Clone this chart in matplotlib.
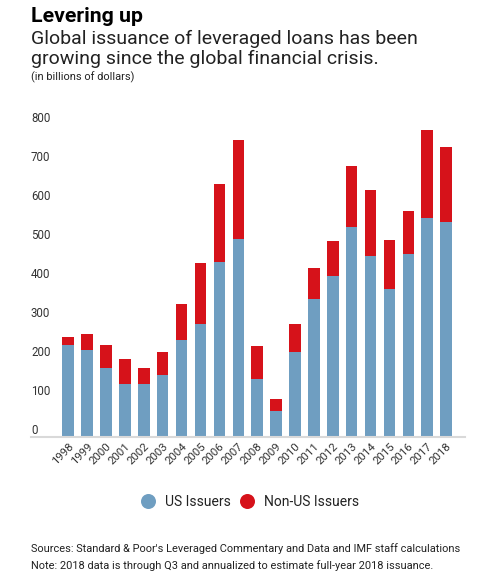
import matplotlib.pyplot as plt
from matplotlib.lines import Line2D
import numpy as np

plt.rcParams['font.family'] = ['Roboto', 'DejaVu Sans']

years = ['1998', '1999', '2000', '2001', '2002', '2003', '2004', '2005', '2006', '2007',
         '2008', '2009', '2010', '2011', '2012', '2013', '2014', '2015', '2016', '2017', '2018']
# US issuers and non-US issuers (billions of dollars)
us_issuers = [236, 223, 177, 136, 136, 158, 248, 290, 448, 508,
              148, 67, 217, 354, 412, 539, 464, 379, 468, 562, 550]
totals = [255, 265, 236, 200, 177, 218, 340, 446, 648, 761,
          232, 97, 290, 432, 501, 695, 633, 505, 580, 787, 743]
non_us_issuers = [t - u for t, u in zip(totals, us_issuers)]

BLUE = '#6f9ec1'
RED = '#d6121a'
TEXT = '#222222'

fig = plt.figure(figsize=(4.85, 5.82), dpi=100)
ax = fig.add_axes([31 / 485, 1 - 437 / 582, 434 / 485, 312.4 / 582])

x = np.arange(len(years))
ax.bar(x, us_issuers, width=0.61, color=BLUE, edgecolor='none')
ax.bar(x, non_us_issuers, bottom=us_issuers, width=0.61, color=RED, edgecolor='none')

ax.set_xlim(-1.97, 21.0)
ax.set_ylim(0, 800)

for s in ['top', 'right', 'left']:
    ax.spines[s].set_visible(False)
ax.spines['bottom'].set_color('#d9d9d9')
ax.spines['bottom'].set_linewidth(1.5)

ax.set_yticks(range(0, 801, 100))
ax.tick_params(axis='y', length=0, pad=0, labelsize=8.3, labelcolor='#333333')
for lab in ax.get_yticklabels():
    lab.set_horizontalalignment('left')
    lab.set_verticalalignment('bottom')

ax.set_xticks(x)
ax.set_xticklabels(years, rotation=45, ha='right', va='top', rotation_mode='anchor')
ax.tick_params(axis='x', length=0, pad=3, labelsize=8.2, labelcolor='#333333')

left = 31 / 485
fig.text(left, 1 - 22 / 582, 'Levering up', fontsize=15.3, fontweight='bold',
         color='black', va='baseline', ha='left')
fig.text(left, 1 - 43.5 / 582, 'Global issuance of leveraged loans has been',
         fontsize=14, color=TEXT, va='baseline', ha='left')
fig.text(left, 1 - 64 / 582, 'growing since the global financial crisis.',
         fontsize=14, color=TEXT, va='baseline', ha='left')
fig.text(left, 1 - 80 / 582, '(in billions of dollars)', fontsize=7.9, color=TEXT,
         va='baseline', ha='left')

handles = [Line2D([], [], marker='o', linestyle='none', markersize=10.8,
                  markerfacecolor=BLUE, markeredgecolor='none', label='US Issuers'),
           Line2D([], [], marker='o', linestyle='none', markersize=10.8,
                  markerfacecolor=RED, markeredgecolor='none', label='Non-US Issuers')]
fig.legend(handles=handles, loc='center', bbox_to_anchor=(250 / 485, 1 - 502 / 582), ncol=2,
           frameon=False, fontsize=10, handletextpad=0.72, columnspacing=0.65,
           handlelength=1.0, labelcolor=TEXT)

fig.text(left, 1 - 549 / 582,
         "Sources: Standard & Poor's Leveraged Commentary and Data and IMF staff calculations",
         fontsize=7.9, color=TEXT, va='center', ha='left')
fig.text(left, 1 - 566 / 582,
         'Note: 2018 data is through Q3 and annualized to estimate full-year 2018 issuance.',
         fontsize=7.9, color=TEXT, va='center', ha='left')

fig.savefig('out.png', dpi=100)
